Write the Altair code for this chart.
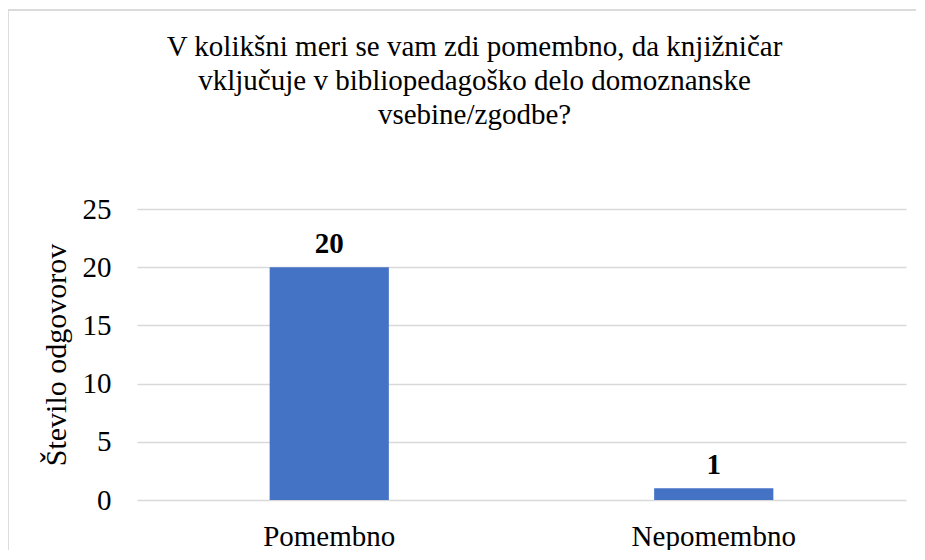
import altair as alt
import pandas as pd

categories = ["Pomembno", "Nepomembno"]
values = [20, 1]
title_lines = ["V kolikšni meri se vam zdi pomembno, da knjižničar",
               "vključuje v bibliopedagoško delo domoznanske",
               "vsebine/zgodbe?"]
y_title = "Število odgovorov"

df = pd.DataFrame({"kategorija": categories, "vrednost": values})

FONT = "Liberation Serif"
FS = 29

base = alt.Chart(df).encode(
    x=alt.X("kategorija:N", sort=categories, title=None,
            scale=alt.Scale(paddingInner=0.69, paddingOuter=0.345),
            axis=alt.Axis(labelAngle=0, labelFontSize=FS, labelFont=FONT,
                          labelColor="#000000", labelPadding=22, ticks=False,
                          domain=False)),
    y=alt.Y("vrednost:Q", title=y_title,
            scale=alt.Scale(domain=[0, 25]),
            axis=alt.Axis(values=[0, 5, 10, 15, 20, 25], labelFontSize=FS,
                          labelFont=FONT, labelColor="#000000", labelPadding=26,
                          ticks=False, domain=False, grid=True,
                          gridColor="#d9d9d9", gridWidth=1.3,
                          titleFontSize=30, titleFont=FONT, titleFontWeight="normal",
                          titleColor="#000000", titlePadding=11)),
)

bars = base.mark_bar(color="#4472C4")
labels = base.mark_text(dy=-14, baseline="alphabetic", font=FONT, fontSize=FS,
                        fontWeight="bold", color="#000000").encode(text="vrednost:Q")

frame = alt.Chart(df).mark_rect(fill=None, stroke="#d9d9d9", strokeWidth=1.3).encode(
    x=alt.value(-129), x2=alt.value(800), y=alt.value(-199), y2=alt.value(380)
)

chart = alt.layer(frame, bars, labels).properties(
    width=769, height=291,
    padding={"left": 129, "top": 201, "right": 10, "bottom": 50},
    autosize=alt.AutoSizeParams(type="none"),
    title=alt.TitleParams(text=title_lines, font=FONT, fontSize=FS,
                          fontWeight="normal", color="#000000", anchor="middle",
                          frame="group", lineHeight=34, dx=-47, offset=-121),
).configure_view(stroke=None)

chart.save("out.html", embed_options={"renderer": "svg", "actions": False})
